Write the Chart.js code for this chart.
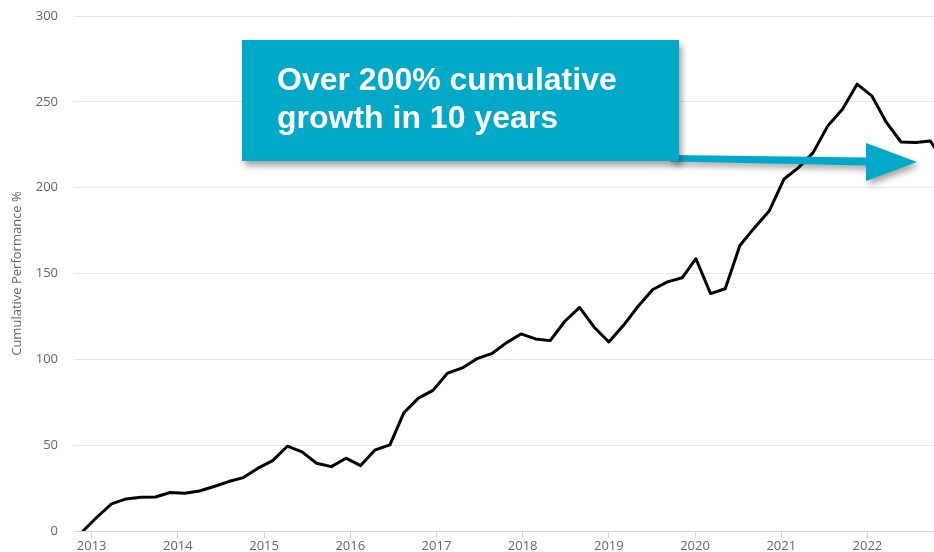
<!DOCTYPE html>
<html lang="en">

<head>
    <meta charset="UTF-8">
    <title>Cumulative Performance</title>
    <script src="https://cdn.jsdelivr.net/npm/chart.js"></script>
    <style>
        body {
            margin: 0;
            overflow: hidden;
            background: #fff;
        }

        .wrap {
            position: relative;
            width: 960px;
            height: 552px;
        }

        .callout {
            position: absolute;
            left: 242px;
            top: 40px;
            width: 437px;
            height: 121px;
            box-sizing: border-box;
            padding: 20px 0 0 35px;
            background: #01a9c9;
            color: #fff;
            font: bold 32px/38.4px "Liberation Sans", Arial, sans-serif;
            box-shadow: 3px 5px 6px rgba(0, 0, 0, 0.35);
            white-space: nowrap;
        }
    </style>
</head>

<body>
    <div class="wrap">
        <canvas id="grafico"></canvas>
        <div class="callout">Over 200% cumulative<br>growth in 10 years</div>
    </div>

    <script>
        // dates (decimal years), roughly every two months
        var datas = [
            2012.90, 2013.06, 2013.23, 2013.40, 2013.57, 2013.74, 2013.91, 2014.08, 2014.25, 2014.42,
            2014.59, 2014.76, 2014.93, 2015.10, 2015.27, 2015.44, 2015.61, 2015.78, 2015.95, 2016.12,
            2016.29, 2016.46, 2016.62, 2016.79, 2016.96, 2017.13, 2017.30, 2017.47, 2017.64, 2017.81,
            2017.98, 2018.15, 2018.32, 2018.49, 2018.66, 2018.83, 2019.00, 2019.17, 2019.34, 2019.51,
            2019.68, 2019.85, 2020.01, 2020.18, 2020.35, 2020.52, 2020.69, 2020.86, 2021.03, 2021.20,
            2021.37, 2021.54, 2021.71, 2021.88, 2022.05, 2022.22, 2022.39, 2022.56, 2022.73, 2022.83
        ];

        // cumulative performance %
        var valores = [
            0, 8, 15.8, 18.7, 19.6, 19.8, 22.4, 22.0, 23.3, 25.9,
            28.8, 31.1, 36.6, 41.0, 49.4, 46.1, 39.5, 37.5, 42.4, 38.1,
            47.3, 50.2, 68.7, 77.4, 81.9, 92.0, 95.0, 100.4, 103.3, 109.6,
            114.8, 111.9, 110.9, 122.2, 130.3, 118.7, 110.1, 119.8, 130.9, 140.7,
            145.1, 147.5, 158.6, 138.3, 141.1, 166.3, 176.7, 186.4, 204.9, 211.7,
            220.4, 236.0, 245.7, 260.3, 253.5, 238.0, 226.6, 226.3, 227.2, 219.5
        ];

        var anos = [2013, 2014, 2015, 2016, 2017, 2018, 2019, 2020, 2021, 2022];

        var fonte = { family: 'Open Sans', size: 13 };

        // teal arrow pointing at the latest value
        const seta = {
            id: 'seta',
            afterDatasetsDraw(chart) {
                const ctx = chart.ctx;
                ctx.save();
                ctx.shadowColor = 'rgba(0,0,0,0.35)';
                ctx.shadowBlur = 6;
                ctx.shadowOffsetX = 3;
                ctx.shadowOffsetY = 4;
                ctx.fillStyle = '#01a9c9';
                ctx.beginPath();
                ctx.moveTo(670, 155);
                ctx.lineTo(866, 157.5);
                ctx.lineTo(866, 143);
                ctx.lineTo(917, 162);
                ctx.lineTo(866, 181);
                ctx.lineTo(866, 165.5);
                ctx.lineTo(670, 161.5);
                ctx.closePath();
                ctx.fill();
                ctx.restore();
            }
        };

        const grafico = document.getElementById('grafico');
        new Chart(grafico, {
            type: 'line',
            data: {
                datasets: [{
                    data: datas.map(function (d, i) { return { x: d, y: valores[i] }; }),
                    borderColor: '#000',
                    borderWidth: 3,
                    borderJoinStyle: 'round',
                    borderCapStyle: 'round',
                    tension: 0,
                    pointRadius: function (c) { return c.dataIndex === valores.length - 1 ? 4 : 0; },
                    pointBackgroundColor: '#fff',
                    pointBorderColor: '#bbb',
                    pointBorderWidth: 1.5
                }]
            },
            options: {
                responsive: true,
                maintainAspectRatio: false,
                animation: false,
                layout: { padding: { top: 16, right: 0, bottom: 0, left: 0 } },
                plugins: {
                    legend: { display: false },
                    tooltip: { enabled: false }
                },
                scales: {
                    x: {
                        type: 'linear',
                        min: 2012.795,
                        max: 2023.01,
                        afterBuildTicks: function (s) { s.ticks = anos.map(function (a) { return { value: a }; }); },
                        afterFit: function (s) { s.height = 21; },
                        grid: { drawOnChartArea: false, drawTicks: true, tickLength: 7, color: '#ccd6eb' },
                        border: { color: '#ccd6eb', width: 1 },
                        ticks: {
                            padding: 0,
                            color: '#666',
                            font: fonte,
                            maxRotation: 0,
                            autoSkip: false,
                            callback: function (v) { return String(v); }
                        }
                    },
                    y: {
                        min: 0,
                        max: 300,
                        afterFit: function (s) { s.width = 74; },
                        ticks: { stepSize: 50, padding: 1, color: '#666', font: fonte },
                        grid: { color: '#e6e6e6', drawTicks: true, tickLength: 15, tickColor: 'transparent' },
                        border: { display: false },
                        title: {
                            display: true,
                            text: 'Cumulative Performance %',
                            color: '#666',
                            font: fonte,
                            padding: { top: 9, bottom: 0 }
                        }
                    }
                }
            },
            plugins: [seta]
        });
    </script>
</body>

</html>
